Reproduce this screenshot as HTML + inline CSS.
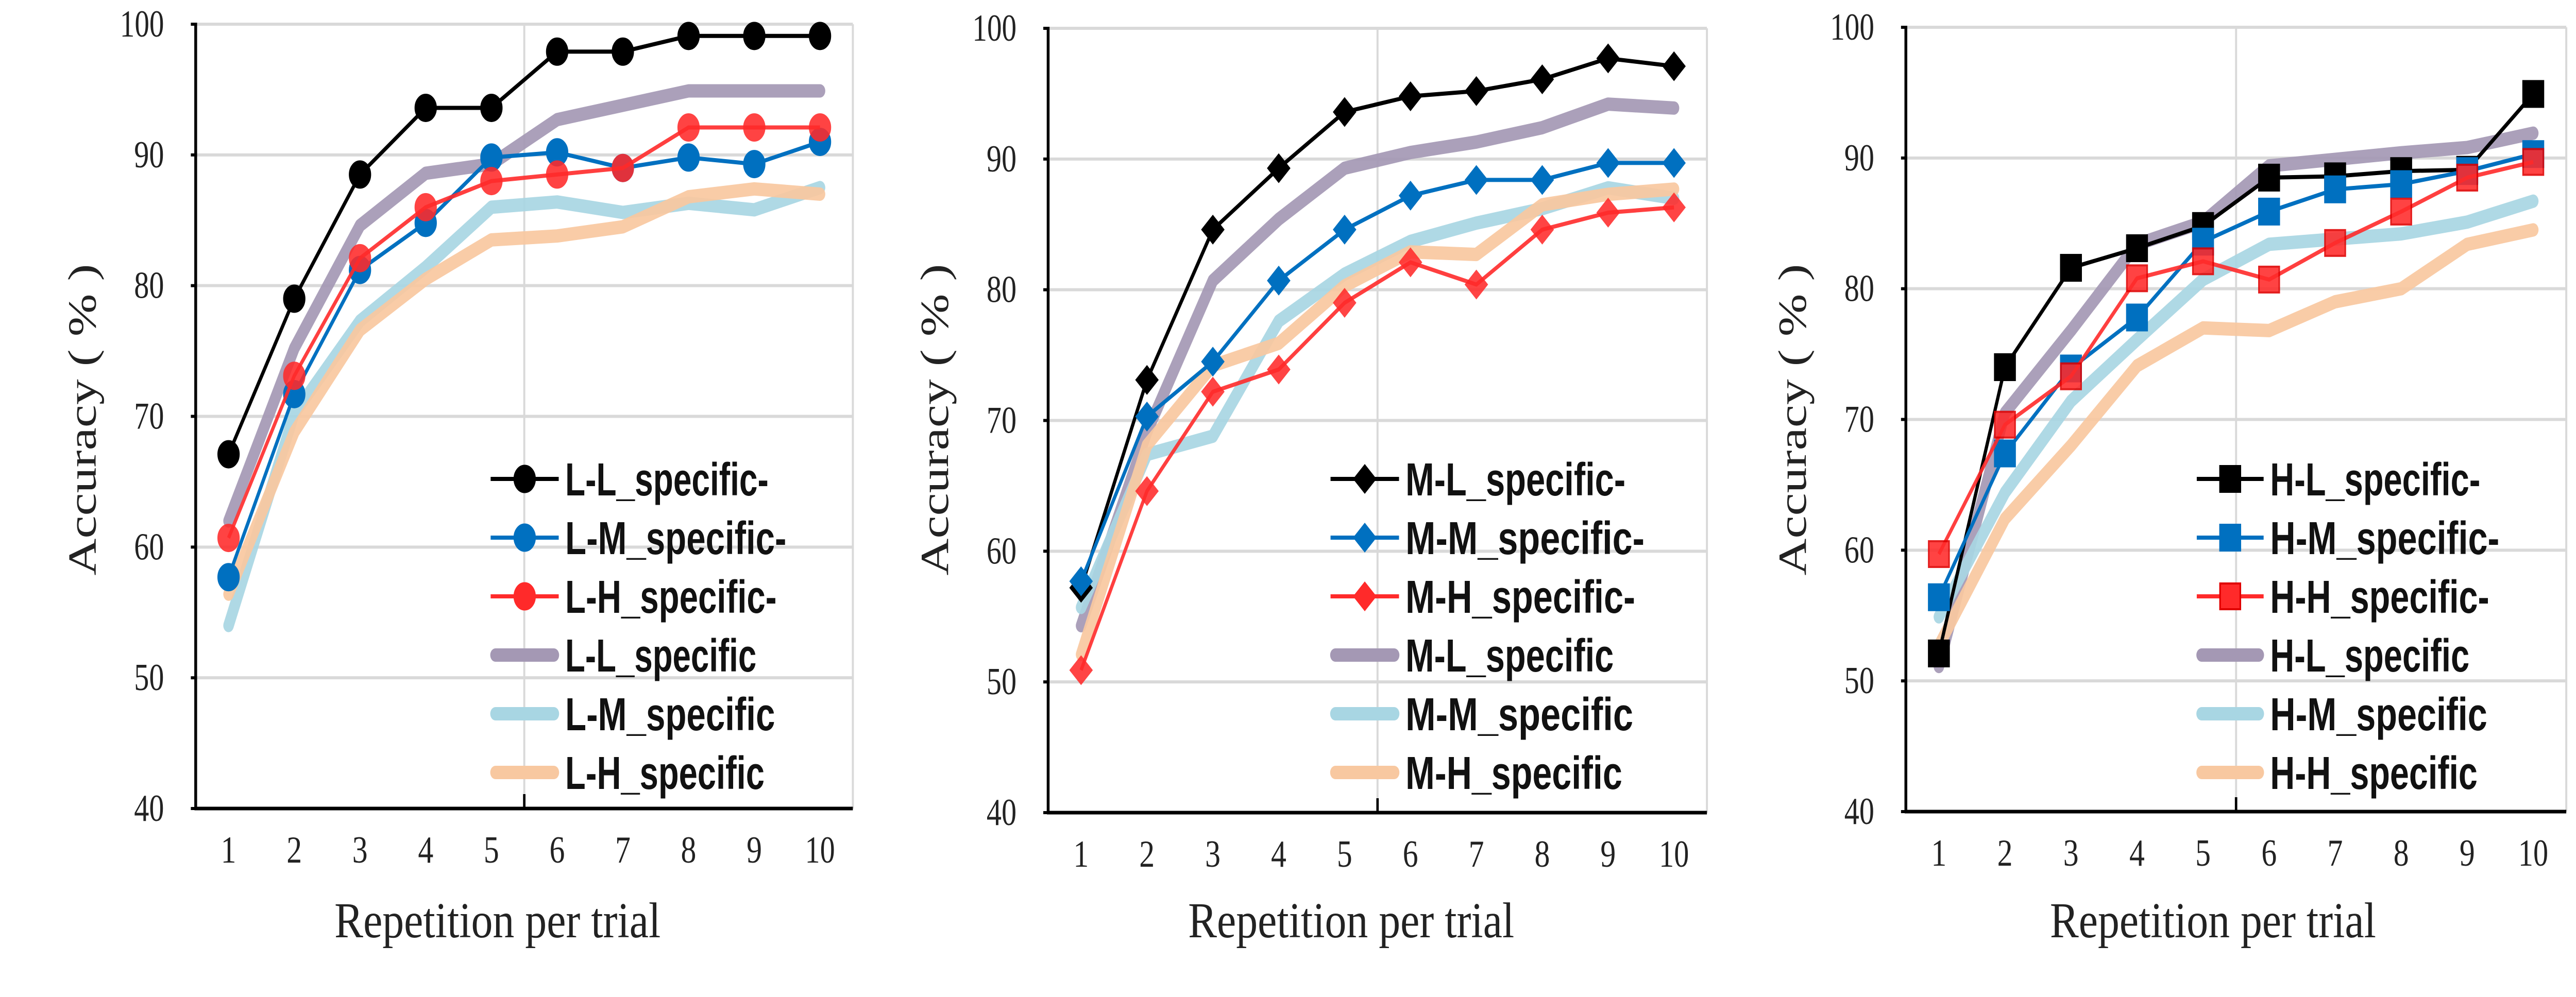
<!DOCTYPE html>
<html><head><meta charset="utf-8"><style>
html,body{margin:0;padding:0;background:#fff;overflow:hidden;width:100vw;height:100vh;}
svg{display:block;width:100vw;height:100vh;}
.tick{font-family:"Liberation Serif",serif;font-size:74px;fill:#222;}
.title{font-family:"Liberation Serif",serif;font-size:98px;fill:#222;}
.leg{font-family:"Liberation Sans",sans-serif;font-weight:bold;font-size:90px;fill:#111;}
</style></head><body>
<svg id="chart" viewBox="0 0 6358 1936" preserveAspectRatio="none" xmlns="http://www.w3.org/2000/svg"></svg>
<script>
const categories = [1,2,3,4,5,6,7,8,9,10];
const yTicks = [40,50,60,70,80,90,100];
// Panel L
const L_L_dash = [67.1,79.0,88.5,93.6,93.6,97.9,97.9,99.1,99.1,99.1];
const L_M_dash = [57.7,71.7,81.2,84.8,89.8,90.2,89.0,89.8,89.3,91.0];
const L_H_dash = [60.7,73.1,82.1,86.0,88.0,88.5,89.0,92.1,92.1,92.1];
const L_L_spec = [62.0,75.2,84.6,88.6,89.3,92.7,93.8,94.9,94.9,94.9];
const L_M_spec = [54.0,70.2,77.3,81.4,86.0,86.4,85.6,86.3,85.8,87.5];
const L_H_spec = [56.4,68.8,76.6,80.5,83.5,83.8,84.5,86.8,87.4,87.0];
// Panel M
const M_L_dash = [57.2,73.1,84.6,89.3,93.6,94.8,95.2,96.1,97.7,97.1];
const M_M_dash = [57.7,70.3,74.5,80.7,84.6,87.2,88.4,88.4,89.7,89.7];
const M_H_dash = [50.9,64.6,72.2,73.9,79.0,82.1,80.4,84.6,85.9,86.3];
const M_L_spec = [54.3,69.1,80.7,85.4,89.3,90.5,91.3,92.4,94.2,93.9];
const M_M_spec = [55.7,67.4,68.8,77.6,81.2,83.7,85.1,86.2,87.8,87.0];
const M_H_spec = [52.1,68.1,74.2,75.9,80.3,82.9,82.7,86.5,87.3,87.7];
// Panel H
const H_L_dash = [52.1,74.0,81.6,83.1,84.8,88.5,88.6,89.0,89.1,94.9];
const H_M_dash = [56.4,67.4,73.9,77.8,83.6,85.9,87.6,88.0,89.0,90.3];
const H_H_dash = [59.7,69.6,73.3,80.8,82.1,80.7,83.5,85.9,88.5,89.7];
const H_L_spec = [51.1,70.5,76.8,83.4,85.1,89.4,89.9,90.4,90.8,91.9];
const H_M_spec = [54.9,64.4,71.4,76.1,80.7,83.4,83.8,84.2,85.1,86.7];
const H_H_spec = [52.7,62.4,68.0,74.1,77.0,76.8,79.0,80.0,83.4,84.5];

const NS = "http://www.w3.org/2000/svg";
const svg = document.getElementById('chart');
function mk(tag, attrs, parent){const e=document.createElementNS(NS,tag);for(const k in attrs)e.setAttribute(k,attrs[k]);(parent||svg).appendChild(e);return e;}
function numLen(s){return s.length===1?38:(s.length===2?74:109);}

const panels = [
  {p:'L', left:483, right:2105, top:47, bottom:1570, marker:'circle', tx:745, legLine:728, legText:912,
   legW:[502,546,522,472,518,492],
   dash:[L_L_dash,L_M_dash,L_H_dash], spec:[L_L_spec,L_M_spec,L_H_spec]},
  {p:'M', left:2587, right:4213, top:55, bottom:1578, marker:'diamond', tx:748, legLine:697, legText:882,
   legW:[543,590,567,514,562,535],
   dash:[M_L_dash,M_M_dash,M_H_dash], spec:[M_L_spec,M_M_spec,M_H_spec]},
  {p:'H', left:4704, right:6334, top:53, bottom:1576, marker:'square', tx:758, legLine:718, legText:899,
   legW:[519,566,541,492,536,512],
   dash:[H_L_dash,H_M_dash,H_H_dash], spec:[H_L_spec,H_M_spec,H_H_spec]}
];
const dashColors = ['#000000','#0070c0','#ff2a2a'];
const specColors = ['#a498b4','#a8d6e3','#f8c8a0'];
const suffix = ['L','M','H'];

panels.forEach((P,pi)=>{
  const g = mk('g',{});
  
  
  const W = P.right-P.left;
  const xs = i => P.left + (i+0.5)*W/categories.length;
  const ys = v => P.bottom - (v-40)/60*(P.bottom-P.top);
  yTicks.forEach(t=>{
    if(t>40){
      const l=mk('line',{x1:P.left,x2:P.right,y1:ys(t),y2:ys(t),stroke:'#d9d9d9','stroke-width':6},g);
      
      
    }
    mk('line',{x1:P.left-12,x2:P.left,y1:ys(t),y2:ys(t),stroke:'#000','stroke-width':6},g);
    const s=String(t);
    const tl=mk('text',{x:P.left-78,y:ys(t)+24,'text-anchor':'end',class:'tick',textLength:numLen(s),lengthAdjust:'spacingAndGlyphs'},g);
    tl.textContent=s;
    
    
  });
  const vc=mk('line',{x1:P.left+W/2,x2:P.left+W/2,y1:P.top,y2:P.bottom,stroke:'#d9d9d9','stroke-width':5},g);
  
  
  mk('line',{x1:P.right,x2:P.right,y1:P.top,y2:P.bottom,stroke:'#d9d9d9','stroke-width':5},g);
  mk('line',{x1:P.left+W/2,x2:P.left+W/2,y1:P.bottom-28,y2:P.bottom,stroke:'#000','stroke-width':6},g);
  const ya=mk('line',{x1:P.left,x2:P.left,y1:P.top-3,y2:P.bottom+3,stroke:'#000','stroke-width':7},g);
  
  
  const xa=mk('line',{x1:P.left-3,x2:P.right,y1:P.bottom,y2:P.bottom,stroke:'#000','stroke-width':7},g);
  
  
  categories.forEach((c,i)=>{
    const s=String(c);
    const t=mk('text',{x:xs(i),y:P.bottom+105,'text-anchor':'middle',class:'tick',textLength:numLen(s),lengthAdjust:'spacingAndGlyphs'},g);
    t.textContent=s;
    
    
  });
  const xt=mk('text',{x:P.left+P.tx,y:1820,'text-anchor':'middle',class:'title',textLength:805,lengthAdjust:'spacingAndGlyphs'},g);
  xt.textContent='Repetition per trial';
  
  
  const yt=mk('text',{x:0,y:0,'text-anchor':'middle',class:'title',textLength:605,lengthAdjust:'spacingAndGlyphs',transform:`translate(${P.left-247},815) rotate(-90)`},g);
  yt.textContent='Accuracy ( % )';
  
  
  P.spec.forEach((arr,si)=>{
    const d=arr.map((v,i)=>(i?'L':'M')+xs(i).toFixed(1)+' '+ys(v).toFixed(1)).join(' ');
    const pth=mk('path',{d:d,fill:'none',stroke:specColors[si],'stroke-width':26,'stroke-linejoin':'round','stroke-linecap':'round',opacity:0.92},g);
    
    
  });
  function marker(cx,cy,col,parent){
    let m;
    if(P.marker==='circle') m=mk('circle',{cx:cx,cy:cy,r:26,fill:col,stroke:col,'stroke-width':3},parent);
    else if(P.marker==='diamond') m=mk('path',{d:`M${cx} ${cy-29}L${cx+29} ${cy}L${cx} ${cy+29}L${cx-29} ${cy}Z`,fill:col},parent);
    else m=mk('rect',{x:cx-25,y:cy-25,width:50,height:50,fill:col,stroke:col==='#ff2a2a'?'#e00000':col,'stroke-width':4},parent);
    return m;
  }
  P.dash.forEach((arr,si)=>{
    const sg=mk('g',{},g);
    
    
    const d=arr.map((v,i)=>(i?'L':'M')+xs(i).toFixed(1)+' '+ys(v).toFixed(1)).join(' ');
    mk('path',{d:d,fill:'none',stroke:dashColors[si],'stroke-width':8,'stroke-linejoin':'round',opacity:si===2?0.9:1},sg);
    arr.forEach((v,i)=>{
      const m=marker(xs(i),ys(v),dashColors[si],sg);
      
      
      if(si===2) m.setAttribute('opacity','0.88');
    });
  });
  const lg=mk('g',{},g);
  
  
  const labels=[P.p+'-L_specific-',P.p+'-M_specific-',P.p+'-H_specific-',P.p+'-L_specific',P.p+'-M_specific',P.p+'-H_specific'];
  labels.forEach((lab,k)=>{
    const y=930+114*k;
    const eg=mk('g',{},lg);
    
    
    const x1=P.left+P.legLine, x2=P.left+P.legText-16;
    if(k<3){
      mk('line',{x1:x1,x2:x2,y1:y,y2:y,stroke:dashColors[k],'stroke-width':8},eg);
      marker((x1+x2)/2,y,dashColors[k],eg);
    } else {
      mk('line',{x1:x1+12,x2:x2-12,y1:y,y2:y,stroke:specColors[k-3],'stroke-width':26,'stroke-linecap':'round'},eg);
    }
    const t=mk('text',{x:P.left+P.legText,y:y+32,class:'leg',textLength:P.legW[k],lengthAdjust:'spacingAndGlyphs'},eg);
    t.textContent=lab;
  });
  svg.appendChild(g);
});
</script>
</body></html>
